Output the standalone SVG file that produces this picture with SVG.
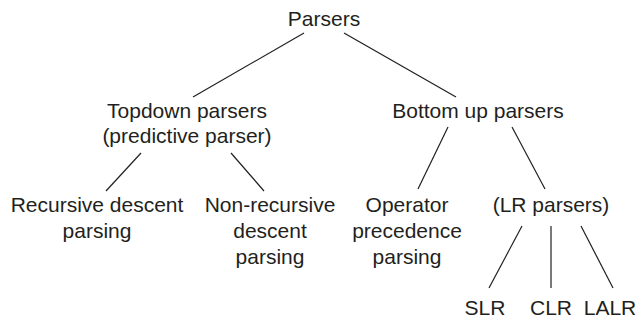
<svg xmlns="http://www.w3.org/2000/svg" width="638" height="320" viewBox="0 0 638 320">
<style>
text{font-family:"Liberation Sans",Arial,sans-serif;font-size:21px;fill:#231f20;text-anchor:middle}
.c line{stroke:#231f20;stroke-width:1.2}
</style>
<rect width="638" height="320" fill="#fff"/>
<g class="c" id="connectors">
<line x1="304" y1="33" x2="193" y2="97"/>
<line x1="344" y1="33" x2="456" y2="97"/>
<line x1="141" y1="153" x2="106" y2="191"/>
<line x1="231" y1="153" x2="264" y2="191"/>
<line x1="448" y1="127" x2="418" y2="189"/>
<line x1="512" y1="127" x2="545" y2="189"/>
<line x1="522" y1="226" x2="489" y2="288"/>
<line x1="551" y1="226" x2="551" y2="288"/>
<line x1="581" y1="226" x2="613" y2="288"/>
</g>
<g id="parsers"><text x="324" y="26">Parsers</text></g>
<g id="topdown"><text x="187" y="118">Topdown parsers</text><text x="187" y="143">(predictive parser)</text></g>
<g id="bottomup"><text x="478" y="118">Bottom up parsers</text></g>
<g id="recursive"><text x="97" y="212">Recursive descent</text><text x="97" y="238">parsing</text></g>
<g id="nonrecursive"><text x="270" y="212">Non-recursive</text><text x="270" y="238">descent</text><text x="270" y="264">parsing</text></g>
<g id="operator"><text x="407" y="212">Operator</text><text x="407" y="238">precedence</text><text x="407" y="264">parsing</text></g>
<g id="lr"><text x="551" y="212">(LR parsers)</text></g>
<g id="slr"><text x="485" y="315">SLR</text></g>
<g id="clr"><text x="551" y="315">CLR</text></g>
<g id="lalr"><text x="610" y="315">LALR</text></g>
</svg>
